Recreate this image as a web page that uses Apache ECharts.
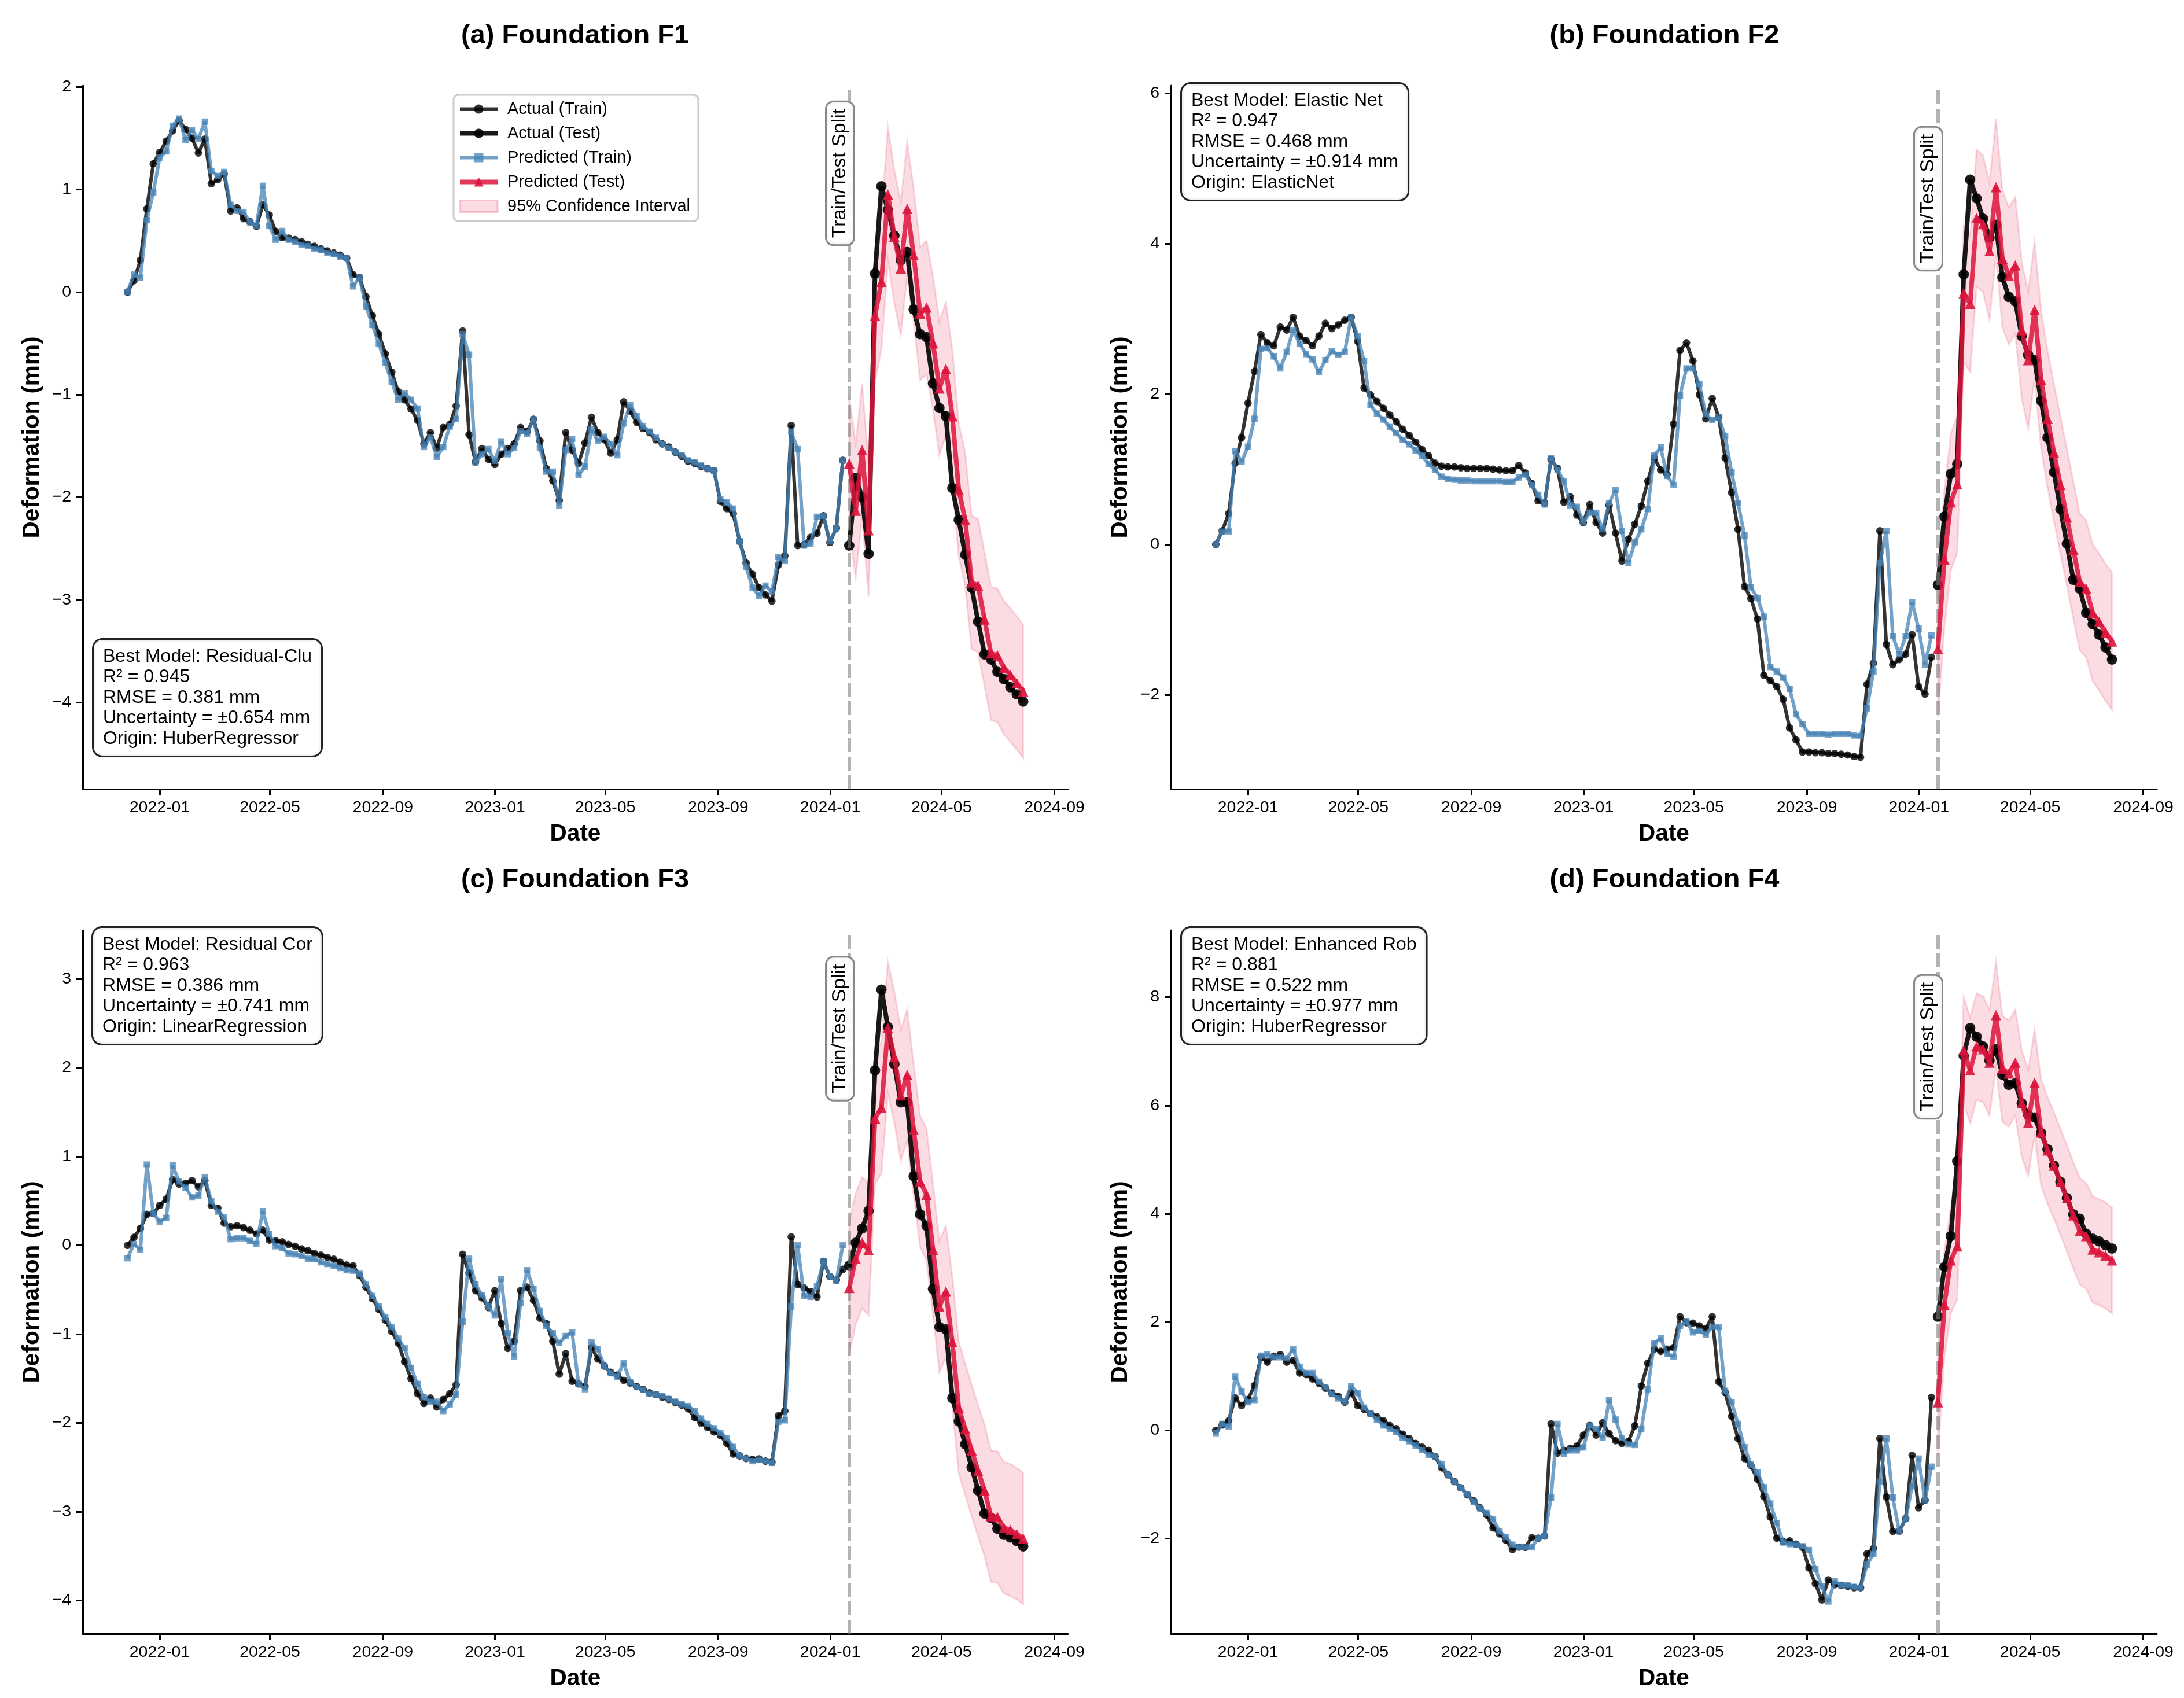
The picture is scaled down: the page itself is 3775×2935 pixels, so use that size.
<!DOCTYPE html>
<html><head><meta charset="utf-8"><style>html,body{margin:0;padding:0;background:#fff}#c{width:3775px;height:2935px}</style>
<script src="https://cdn.jsdelivr.net/npm/echarts@6/dist/echarts.min.js"></script></head>
<body><div id="c"></div>
<script>
// ---- sampling (weekly readings) ----
const START_DATE = '2021-11-27';
const DAY_STEP = 7.0144;
const N_TRAIN = 112, N_TEST = 28;
const xTickDates = ['2022-01-01','2022-05-01','2022-09-01','2023-01-01','2023-05-01','2023-09-01','2024-01-01','2024-05-01','2024-09-01'];

// ---- (a) F1 ----
const aActualTrain = [0,.11,.31,.81,1.25,1.36,1.47,1.57,1.67,1.585,1.50,1.355,1.49,1.055,1.095,1.15,.79,.82,.715,.685,.64,.85,.75,.59,.53,.525,.51,.49,.465,.445,.42,.40,.38,.36,.33,.17,.14,-.045,-.23,-.41,-.60,-.78,-.97,-1.05,-1.14,-1.25,-1.48,-1.37,-1.52,-1.32,-1.29,-1.11,-.38,-1.39,-1.655,-1.525,-1.63,-1.68,-1.58,-1.525,-1.48,-1.32,
-1.36,-1.24,-1.45,-1.72,-1.84,-2.03,-1.37,-1.54,-1.67,-1.47,-1.22,-1.37,-1.44,-1.57,-1.44,-1.07,-1.16,-1.27,-1.33,-1.37,-1.44,-1.48,-1.51,-1.56,-1.60,-1.65,-1.67,-1.70,-1.72,-1.74,-2.04,-2.11,-2.16,-2.43,-2.64,-2.75,-2.88,-2.95,-3.01,-2.66,-2.57,-1.30,-2.47,-2.46,-2.39,-2.35,-2.18,-2.44,-2.30,-1.64];
const aPredTrain = [0,.17,.14,.70,.97,1.31,1.37,1.62,1.69,1.48,1.58,1.49,1.66,1.18,1.13,1.17,.85,.79,.78,.68,.645,1.035,.645,.51,.595,.51,.49,.46,.45,.42,.41,.38,.37,.345,.33,.055,.14,-.14,-.32,-.505,-.69,-.875,-1.05,-.985,-1.05,-1.135,-1.51,-1.415,-1.605,-1.51,-1.31,-1.235,-.41,-.61,-1.66,-1.58,-1.53,-1.645,-1.455,-1.58,-1.52,-1.355,
-1.38,-1.24,-1.52,-1.75,-1.75,-2.08,-1.54,-1.43,-1.78,-1.70,-1.34,-1.45,-1.41,-1.48,-1.59,-1.28,-1.10,-1.21,-1.31,-1.36,-1.42,-1.48,-1.52,-1.56,-1.59,-1.64,-1.66,-1.69,-1.72,-1.74,-2.02,-2.05,-2.11,-2.43,-2.68,-2.88,-2.96,-2.86,-2.92,-2.58,-2.62,-1.36,-1.53,-2.47,-2.45,-2.19,-2.18,-2.43,-2.30,-1.64];
const aActualTest = [-2.47,-1.81,-2.00,-2.55,.18,1.03,.80,.55,.31,.39,-.17,-.41,-.44,-.89,-1.13,-1.21,-1.91,-2.22,-2.56,-2.88,-3.21,-3.53,-3.58,-3.70,-3.77,-3.85,-3.92,-3.99];
const aPredTest = [-1.67,-2.13,-1.54,-2.32,-.23,.10,.95,.54,.23,.81,.36,-.21,-.15,-.50,-.94,-.75,-1.21,-1.93,-2.22,-2.83,-2.86,-3.19,-3.52,-3.54,-3.66,-3.73,-3.81,-3.89];
const aLower = [-2.32,-2.78,-2.19,-2.97,-.88,-.55,.30,-.11,-.42,.16,-.29,-.86,-.80,-1.15,-1.59,-1.40,-1.86,-2.58,-2.87,-3.48,-3.51,-3.84,-4.17,-4.19,-4.31,-4.38,-4.46,-4.54];
const aUpper = [-1.02,-1.48,-.89,-1.67,.42,.75,1.60,1.19,.88,1.46,1.01,.44,.50,.15,-.29,-.10,-.56,-1.28,-1.57,-2.18,-2.21,-2.54,-2.87,-2.89,-3.01,-3.08,-3.16,-3.24];
const aYTicks = [-4,-3,-2,-1,0,1,2];

// ---- (b) F2 ----
const bActualTrain = [0,.18,.41,1.08,1.42,1.88,2.30,2.79,2.68,2.64,2.89,2.85,3.02,2.77,2.71,2.64,2.77,2.94,2.87,2.92,2.98,3.02,2.70,2.08,1.99,1.90,1.81,1.72,1.63,1.53,1.45,1.36,1.26,1.18,1.08,1.04,1.03,1.03,1.02,1.01,1.01,1.01,1.01,1.00,.99,.98,.98,1.05,.95,.81,.58,.55,1.13,1.01,.56,.63,.39,.29,.53,.29,.15,.52,.15,-.22,.07,.27,.51,.84,1.15,.99,.93,1.60,
2.58,2.68,2.44,1.99,1.67,1.94,1.69,1.15,.69,.20,-.56,-.72,-.99,-1.74,-1.81,-1.89,-2.06,-2.44,-2.60,-2.76,-2.76,-2.77,-2.77,-2.78,-2.78,-2.79,-2.80,-2.82,-2.83,-1.86,-1.58,.18,-1.33,-1.60,-1.53,-1.46,-1.20,-1.89,-1.99,-1.50];
const bPredTrain = [0,.17,.17,1.24,1.10,1.30,1.67,2.60,2.61,2.50,2.34,2.56,2.85,2.67,2.53,2.46,2.29,2.45,2.57,2.52,2.56,3.02,2.77,2.44,1.85,1.74,1.66,1.56,1.48,1.39,1.33,1.25,1.18,1.07,.99,.90,.87,.86,.85,.85,.84,.84,.84,.84,.84,.83,.83,.89,.93,.79,.66,.53,1.15,.99,.84,.52,.50,.30,.42,.42,.20,.55,.72,.18,-.25,.03,.20,.47,1.18,1.29,.91,.79,
1.98,2.34,2.34,2.13,1.73,1.65,1.69,1.44,.96,.55,.12,-.57,-.71,-.96,-1.63,-1.69,-1.77,-1.92,-2.26,-2.39,-2.52,-2.52,-2.52,-2.53,-2.52,-2.52,-2.52,-2.54,-2.55,-2.18,-1.69,-.25,.18,-1.22,-1.46,-1.22,-.77,-1.12,-1.60,-1.21];
const bActualTest = [-.54,.37,.94,1.07,3.59,4.85,4.60,4.33,4.08,4.25,3.55,3.29,3.23,2.77,2.52,2.45,1.91,1.42,.96,.47,.01,-.47,-.59,-.91,-1.06,-1.20,-1.37,-1.53];
const bPredTest = [-1.39,-.20,.56,.80,3.34,3.20,4.34,4.26,3.90,4.75,3.80,3.57,3.71,2.85,2.45,3.12,2.19,1.67,1.22,.79,.36,-.07,-.50,-.59,-.91,-1.03,-1.17,-1.29];
const bLower = [-2.30,-1.11,-.35,-.11,2.43,2.29,3.43,3.35,2.99,3.84,2.89,2.66,2.80,1.94,1.54,2.21,1.28,.76,.31,-.12,-.55,-.98,-1.41,-1.50,-1.82,-1.94,-2.08,-2.20];
const bUpper = [-.48,.71,1.47,1.71,4.25,4.11,5.25,5.17,4.81,5.66,4.71,4.48,4.62,3.76,3.36,4.03,3.10,2.58,2.13,1.70,1.27,.84,.41,.32,0,-.12,-.26,-.38];
const bYTicks = [-2,0,2,4,6];

// ---- (c) F3 ----
const cActualTrain = [0,.09,.19,.35,.36,.45,.52,.74,.69,.70,.73,.66,.73,.45,.42,.25,.21,.22,.20,.17,.13,.17,.06,.05,.04,.01,-.01,-.04,-.06,-.09,-.11,-.135,-.155,-.19,-.22,-.23,-.34,-.47,-.60,-.72,-.84,-.97,-1.10,-1.31,-1.50,-1.67,-1.78,-1.72,-1.82,-1.735,-1.67,-1.57,-.10,-.31,-.51,-.59,-.70,-.51,-.88,-1.16,-1.08,-.51,-.47,-.62,-.82,-.88,-1.08,-1.45,-1.22,-1.53,-1.56,-1.59,
-1.15,-1.28,-1.36,-1.43,-1.46,-1.52,-1.55,-1.59,-1.62,-1.66,-1.68,-1.71,-1.735,-1.77,-1.80,-1.84,-1.94,-2.00,-2.05,-2.10,-2.14,-2.23,-2.35,-2.37,-2.40,-2.41,-2.405,-2.43,-2.44,-1.92,-1.865,.095,-.44,-.48,-.52,-.58,-.18,-.35,-.39,-.27];
const cPredTrain = [-.145,.015,-.05,.91,.36,.265,.31,.90,.72,.65,.54,.56,.77,.50,.38,.32,.07,.08,.08,.05,.015,.385,.13,-.01,-.03,-.09,-.10,-.12,-.15,-.155,-.19,-.21,-.23,-.255,-.28,-.285,-.32,-.44,-.57,-.69,-.81,-.92,-1.05,-1.16,-1.38,-1.56,-1.71,-1.76,-1.76,-1.865,-1.79,-1.68,-.86,-.15,-.44,-.56,-.69,-.79,-.38,-.99,-1.25,-.65,-.28,-.49,-.74,-.91,-.99,-1.10,-1.02,-.98,-1.56,-1.62,
-1.09,-1.17,-1.36,-1.44,-1.48,-1.325,-1.54,-1.595,-1.625,-1.67,-1.68,-1.70,-1.73,-1.76,-1.79,-1.81,-1.865,-1.95,-2.01,-2.06,-2.11,-2.17,-2.27,-2.37,-2.40,-2.43,-2.415,-2.43,-2.45,-1.985,-1.97,-.69,0,-.57,-.58,-.46,-.18,-.35,-.40,0];
const cActualTest = [-.23,.03,.19,.39,1.97,2.88,2.46,2.04,1.61,1.61,.78,.35,.22,-.49,-.92,-.945,-1.72,-1.98,-2.24,-2.50,-2.76,-3.02,-3.07,-3.19,-3.26,-3.29,-3.33,-3.39];
const cPredTest = [-.48,-.15,.03,-.05,1.43,1.55,2.45,2.12,1.69,1.92,1.30,.72,.57,-.05,-.69,-.52,-1.09,-1.83,-2.07,-2.31,-2.54,-2.76,-3.05,-3.06,-3.18,-3.205,-3.25,-3.30];
const cLower = [-1.22,-.89,-.71,-.79,.69,.81,1.71,1.38,.95,1.18,.56,-.02,-.17,-.79,-1.43,-1.26,-1.83,-2.57,-2.81,-3.05,-3.28,-3.50,-3.79,-3.80,-3.92,-3.95,-3.99,-4.04];
const cUpper = [.26,.59,.77,.69,2.17,2.29,3.19,2.86,2.43,2.66,2.04,1.46,1.31,.69,.05,.22,-.35,-1.09,-1.33,-1.57,-1.80,-2.02,-2.31,-2.32,-2.44,-2.46,-2.51,-2.56];
const cYTicks = [-4,-3,-2,-1,0,1,2,3];

// ---- (d) F4 ----
const dActualTrain = [0,.10,.18,.60,.46,.57,.83,1.35,1.26,1.37,1.40,1.26,1.29,1.06,1.03,.95,.87,.78,.69,.63,.52,.70,.46,.39,.31,.25,.18,.09,.03,-.07,-.15,-.24,-.31,-.37,-.48,-.69,-.82,-.945,-1.06,-1.19,-1.30,-1.43,-1.56,-1.80,-1.91,-2.03,-2.20,-2.155,-2.16,-1.98,-1.99,-1.95,.12,-.42,-.37,-.33,-.29,-.09,.09,-.085,.14,-.06,-.19,-.24,-.20,.085,.82,1.24,1.50,1.46,1.50,1.53,
2.10,1.99,1.98,1.93,1.88,2.10,.90,.70,.26,-.15,-.52,-.65,-.90,-1.22,-1.60,-1.99,-2.05,-2.04,-2.10,-2.16,-2.54,-2.83,-3.13,-2.76,-2.85,-2.86,-2.88,-2.905,-2.905,-2.28,-2.18,-.15,-1.23,-1.865,-1.86,-1.63,-.46,-1.43,-1.29,.61];
const dPredTrain = [-.05,.12,.07,.99,.715,.52,.56,1.38,1.40,1.35,1.35,1.33,1.50,1.17,1.06,1.06,.90,.80,.67,.59,.53,.82,.69,.42,.31,.20,.09,.03,-.03,-.14,-.20,-.28,-.36,-.45,-.48,-.63,-.82,-.945,-1.06,-1.18,-1.32,-1.44,-1.525,-1.635,-1.865,-1.97,-2.11,-2.16,-2.16,-2.16,-1.99,-1.95,-1.24,.12,-.43,-.37,-.37,-.315,.09,.03,-.14,.56,.20,-.14,-.26,-.27,.02,.76,1.61,1.70,1.41,1.36,
1.93,2.01,1.81,1.84,1.77,1.91,1.91,.73,.52,.12,-.31,-.63,-.775,-1.05,-1.35,-1.71,-2.07,-2.10,-2.11,-2.14,-2.21,-2.56,-2.88,-3.16,-2.78,-2.86,-2.86,-2.89,-2.905,-2.48,-2.28,-.945,-.15,-1.24,-1.865,-1.63,-1.03,-.52,-1.29,-.67];
const dActualTest = [2.10,3.02,3.59,4.97,6.92,7.43,7.27,7.09,6.83,7.04,6.57,6.38,6.41,6.04,5.83,5.78,5.49,5.19,4.89,4.59,4.29,3.99,3.91,3.63,3.54,3.49,3.42,3.36];
const dPredTest = [.52,2.32,3.14,3.40,7.02,6.65,7.09,7.04,6.79,7.67,6.68,6.59,6.79,6.04,5.68,6.42,5.50,5.17,4.89,4.59,4.29,3.97,3.68,3.59,3.34,3.29,3.23,3.14];
const dLower = [-.46,1.34,2.16,2.42,6.04,5.67,6.11,6.06,5.81,6.69,5.70,5.61,5.81,5.06,4.70,5.44,4.52,4.19,3.91,3.61,3.31,2.99,2.70,2.61,2.36,2.31,2.25,2.16];
const dUpper = [1.50,3.30,4.12,4.38,8.00,7.63,8.07,8.02,7.77,8.65,7.66,7.57,7.77,7.02,6.66,7.40,6.48,6.15,5.87,5.57,5.27,4.95,4.66,4.57,4.32,4.27,4.21,4.12];
const dYTicks = [-2,0,2,4,6,8];

// ---- text ----
const titles = ['(a) Foundation F1','(b) Foundation F2','(c) Foundation F3','(d) Foundation F4'];
const infoBoxes = [
 'Best Model: Residual-Clu\nR² = 0.945\nRMSE = 0.381 mm\nUncertainty = ±0.654 mm\nOrigin: HuberRegressor',
 'Best Model: Elastic Net\nR² = 0.947\nRMSE = 0.468 mm\nUncertainty = ±0.914 mm\nOrigin: ElasticNet',
 'Best Model: Residual Cor\nR² = 0.963\nRMSE = 0.386 mm\nUncertainty = ±0.741 mm\nOrigin: LinearRegression',
 'Best Model: Enhanced Rob\nR² = 0.881\nRMSE = 0.522 mm\nUncertainty = ±0.977 mm\nOrigin: HuberRegressor'];
const N = {at:'Actual (Train)',ae:'Actual (Test)',pt:'Predicted (Train)',pe:'Predicted (Test)',ci:'95% Confidence Interval'};

// ---- layout ----
const FONT = '"Liberation Sans", Arial, sans-serif';
const panels = [
 {grid:[143,148,1703,1216],y:[-4.843,2.011],ticks:aYTicks,at:aActualTrain,pt:aPredTrain,ae:aActualTest,pe:aPredTest,lo:aLower,hi:aUpper,info:[162,1106],split:[1452,299.5],tx:989,ty:34},
 {grid:[2024,148,1704,1216],y:[-3.254,6.10],ticks:bYTicks,at:bActualTrain,pt:bPredTrain,ae:bActualTest,pe:bPredTest,lo:bLower,hi:bUpper,info:[2043,145],split:[3333,343.5],tx:2872,ty:34},
 {grid:[143,1608,1703,1216],y:[-4.374,3.548],ticks:cYTicks,at:cActualTrain,pt:cPredTrain,ae:cActualTest,pe:cPredTest,lo:cLower,hi:cUpper,info:[161,1604],split:[1452,1778],tx:989,ty:1493},
 {grid:[2024,1608,1704,1216],y:[-3.756,9.235],ticks:dYTicks,at:dActualTrain,pt:dPredTrain,ae:dActualTest,pe:dPredTest,lo:dLower,hi:dUpper,info:[2043,1604],split:[3333,1809.5],tx:2872,ty:1493}
];

const DAY = 86400000;
const t0 = Date.parse(START_DATE + 'T00:00:00Z');
const dateAt = i => t0 + i * DAY_STEP * DAY;
const trainT = Array.from({length:N_TRAIN},(_, i)=>dateAt(i));
const testT = Array.from({length:N_TEST},(_, i)=>dateAt(N_TRAIN+i));
const xSpan = testT[N_TEST-1]-t0;
const xMin = t0 - xSpan*0.05, xMax = testT[N_TEST-1] + xSpan*0.05;
const xTicks = xTickDates.map(d=>Date.parse(d+'T00:00:00Z'));
const zip = (ts,vs)=>ts.map((t,i)=>[t,vs[i]]);
const fmtX = v => { const d=new Date(v); return d.getUTCFullYear()+'-'+String(d.getUTCMonth()+1).padStart(2,'0'); };
const fmtY = v => String(v).replace('-','\u2212');

const grid=[],xAxis=[],yAxis=[],series=[],title=[],graphic=[];
panels.forEach((p,k)=>{
  grid.push({left:p.grid[0],top:p.grid[1],width:p.grid[2],height:p.grid[3],containLabel:false,outerBoundsMode:'none',show:false});
  title.push({text:titles[k],left:p.tx,top:p.ty,textAlign:'center',textStyle:{fontFamily:FONT,fontWeight:'bold',fontSize:47,color:'#000'}});
  const axisCommon={axisLine:{show:true,onZero:false,lineStyle:{color:'#000',width:3}},axisTick:{show:true,length:11,lineStyle:{color:'#000',width:3}},splitLine:{show:false},nameTextStyle:{fontFamily:FONT,fontWeight:'bold',fontSize:40.5,color:'#000'}};
  xAxis.push({...axisCommon,type:'value',gridIndex:k,min:xMin,max:xMax,name:'Date',nameLocation:'middle',nameGap:57,
    axisTick:{...axisCommon.axisTick,customValues:xTicks},
    axisLabel:{customValues:xTicks,formatter:fmtX,fontFamily:FONT,fontSize:28.5,color:'#000',margin:18,hideOverlap:false,showMinLabel:true,showMaxLabel:true}});
  yAxis.push({...axisCommon,type:'value',gridIndex:k,min:p.y[0],max:p.y[1],name:'Deformation (mm)',nameLocation:'middle',nameGap:67,
    axisTick:{...axisCommon.axisTick,customValues:p.ticks},
    axisLabel:{customValues:p.ticks,formatter:fmtY,fontFamily:FONT,fontSize:28.5,color:'#000',margin:20,hideOverlap:false}});
  const base={xAxisIndex:k,yAxisIndex:k,animation:false,silent:true};
  series.push({...base,name:N.ci,type:'custom',coordinateSystem:'cartesian2d',
    data:testT.map((t,i)=>[t,p.lo[i],p.hi[i]]),encode:{x:0,y:[1,2]},z:2,
    renderItem:(params,api)=>{
      if(params.dataIndex!==0) return;
      const up=testT.map((t,i)=>api.coord([t,p.hi[i]]));
      const dn=testT.map((t,i)=>api.coord([t,p.lo[i]])).reverse();
      return {type:'polygon',shape:{points:up.concat(dn)},style:{fill:'rgba(220,20,60,0.15)',stroke:'rgba(220,20,60,0.15)',lineWidth:3}};
    }});
  series.push({...base,name:N.at,type:'line',data:zip(trainT,p.at),z:3,symbol:'circle',symbolSize:13,showSymbol:true,showAllSymbol:true,
    lineStyle:{color:'#000',width:6,opacity:0.8},itemStyle:{color:'#000',opacity:0.8},
    markLine:{silent:true,symbol:'none',animation:false,label:{show:false},lineStyle:{color:'rgba(128,128,128,0.6)',width:6,type:[24,8]},data:[{xAxis:testT[0]}]}});
  series.push({...base,name:N.ae,type:'line',data:zip(testT,p.ae),z:4,symbol:'circle',symbolSize:18,showSymbol:true,showAllSymbol:true,
    lineStyle:{color:'#000',width:8,opacity:0.9},itemStyle:{color:'#000',opacity:0.9}});
  series.push({...base,name:N.pt,type:'line',data:zip(trainT,p.pt),z:5,symbol:'rect',symbolSize:11,showSymbol:true,showAllSymbol:true,
    lineStyle:{color:'#4682b4',width:6,opacity:0.75},itemStyle:{color:'#4682b4',opacity:0.75}});
  series.push({...base,name:N.pe,type:'line',data:zip(testT,p.pe),z:6,symbol:'triangle',symbolSize:18,showSymbol:true,showAllSymbol:true,
    lineStyle:{color:'#dc143c',width:8,opacity:0.85},itemStyle:{color:'#dc143c',opacity:0.9}});
  graphic.push({type:'text',z:50,x:p.info[0],y:p.info[1],silent:true,style:{text:infoBoxes[k],font:'32px '+FONT,fill:'#000',lineHeight:35.6,
    backgroundColor:'rgba(255,255,255,0.95)',borderColor:'#222',borderWidth:3,borderRadius:15,padding:[11,16,11,16]}});
  graphic.push({type:'text',z:50,x:p.split[0],y:p.split[1],rotation:Math.PI/2,silent:true,style:{text:'Train/Test Split',font:'34px '+FONT,fill:'#000',align:'center',verticalAlign:'middle',
    backgroundColor:'rgba(255,255,255,0.92)',borderColor:'#888',borderWidth:3,borderRadius:12,padding:[6,11,6,11]}});
});

const legend={show:true,orient:'vertical',left:784,top:164,selectedMode:false,itemWidth:65,itemHeight:20,itemGap:13,padding:[10,14,11,7],
  borderColor:'#ccc',borderWidth:3,borderRadius:8,backgroundColor:'#fff',z:40,
  textStyle:{fontFamily:FONT,fontSize:29,color:'#000',padding:[0,0,0,12]},
  data:[{name:N.at,lineStyle:{width:6}},{name:N.ae,lineStyle:{width:8}},{name:N.pt,lineStyle:{width:6}},{name:N.pe,lineStyle:{width:8}},
        {name:N.ci,icon:'rect',itemStyle:{color:'rgba(220,20,60,0.15)',borderColor:'rgba(220,20,60,0.2)',borderWidth:3}}]};

const chart=echarts.init(document.getElementById('c'),null,{width:3775,height:2935,renderer:'canvas'});
chart.setOption({animation:false,useUTC:true,backgroundColor:'#fff',title,grid,xAxis,yAxis,series,legend,graphic});
</script></body></html>
